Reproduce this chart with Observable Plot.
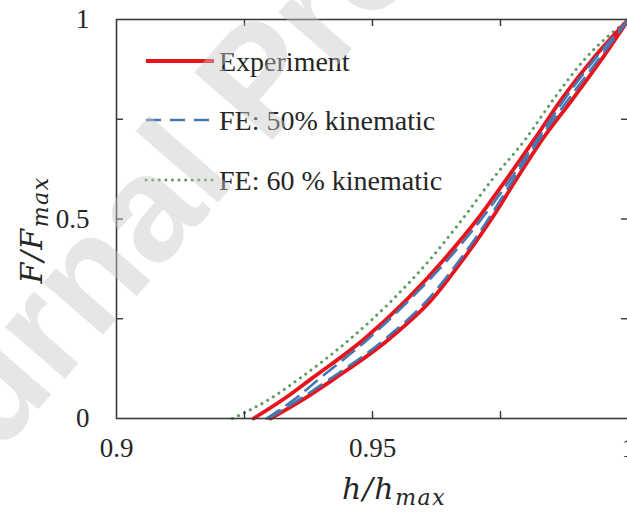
<!DOCTYPE html>
<html>
<head>
<meta charset="utf-8">
<script src="https://cdn.jsdelivr.net/npm/d3@7"></script>
<script src="https://cdn.jsdelivr.net/npm/@observablehq/plot@0.6"></script>
<style>
  html, body { margin: 0; padding: 0; background: #fff; overflow: hidden; }
  #chart { position: relative; width: 627px; height: 515px; overflow: hidden; }
  #chart svg { display: block; max-width: none !important; }
</style>
</head>
<body>
<div id="chart"></div>
<script>
// Normalised force levels shared by every branch
const forceLevels = [0, 0.05, 0.1, 0.2, 0.3, 0.4, 0.5, 0.6, 0.7, 0.8, 0.9, 1];

// Normalised depth h/hmax at each force level
const expUpper  = [0.92676, 0.93281, 0.93809, 0.94844, 0.95684, 0.96406, 0.97051, 0.97617, 0.98164, 0.98691, 0.99297, 1];
const expLower  = [0.93008, 0.93672, 0.94258, 0.95332, 0.96172, 0.96777, 0.97324, 0.97813, 0.98320, 0.98906, 0.99473, 1];
const fe50Upper = [0.92930, 0.93496, 0.93965, 0.94922, 0.95742, 0.96484, 0.97129, 0.97695, 0.98223, 0.98750, 0.99336, 1];
const fe50Lower = [0.92969, 0.93594, 0.94180, 0.95254, 0.96094, 0.96719, 0.97266, 0.97754, 0.98262, 0.98828, 0.99414, 1];
const fe60      = [0.92266, 0.93008, 0.93574, 0.94570, 0.95410, 0.96133, 0.96758, 0.97344, 0.97988, 0.98535, 0.99141, 1];

// Axis ticks
const xTickLabels = [0.9, 0.95, 1];
const yTickLabels = [0, 0.5, 1];
const xTickMarks = [0.925, 0.95, 0.975];
const yTickMarks = [0.25, 0.5, 0.75];

// Legend entries
const legendLabels = ["Experiment", "FE: 50% kinematic", "FE: 60 % kinematic"];

const colors = { exp: "#e8141c", fe50: "#4677b0", fe60: "#5f9a62" };

function branch(hs, name) {
  return hs.map((h, i) => ({ h, F: forceLevels[i], branch: name }));
}
const expRows  = [...branch(expUpper, "up"), ...branch(expLower, "low")];
const fe50Rows = [...branch(fe50Upper, "up"), ...branch(fe50Lower, "low")];
const fe60Rows = branch(fe60, "single");

const plotW = 688, plotH = 515;
const mL = 116, mR = 60, mT = 19, mB = 97;
const innerW = plotW - mL - mR, innerH = plotH - mT - mB;
const tickLen = 7;

const chart = Plot.plot({
  width: plotW,
  height: plotH,
  marginLeft: mL,
  marginRight: mR,
  marginTop: mT,
  marginBottom: mB,
  style: { fontFamily: "'Liberation Serif', 'Times New Roman', serif", fontSize: "27px", color: "#262626", background: "#fff" },
  x: { domain: [0.9, 1] },
  y: { domain: [0, 1] },
  marks: [
    // curves
    Plot.line(fe60Rows, { x: "h", y: "F", z: "branch", curve: "monotone-x", stroke: colors.fe60, strokeWidth: 3, strokeDasharray: "0.1,6.5", strokeLinecap: "round" }),
    Plot.line(expRows, { x: "h", y: "F", z: "branch", curve: "monotone-x", stroke: colors.exp, strokeWidth: 3.8 }),
    Plot.line(fe50Rows, { x: "h", y: "F", z: "branch", curve: "monotone-x", stroke: colors.fe50, strokeWidth: 2.6, strokeDasharray: "15,9" }),
    // inward tick marks on all four sides
    Plot.tickX(xTickMarks, { x: d => d, insetTop: innerH - tickLen, stroke: "#333", strokeWidth: 1.4 }),
    Plot.tickX(xTickMarks, { x: d => d, insetBottom: innerH - tickLen, stroke: "#333", strokeWidth: 1.4 }),
    Plot.tickY(yTickMarks, { y: d => d, insetRight: innerW - tickLen, stroke: "#333", strokeWidth: 1.4 }),
    Plot.tickY(yTickMarks, { y: d => d, insetLeft: innerW - tickLen, stroke: "#333", strokeWidth: 1.4 }),
    // tick labels
    Plot.axisX(xTickLabels, { tickSize: 0, tickPadding: 19, tickFormat: d => String(d), label: null }),
    Plot.axisY(yTickLabels, { tickSize: 0, tickPadding: 27, tickFormat: d => String(d), label: null }),
    Plot.frame({ stroke: "#3a3a3a", strokeWidth: 1.6 })
  ]
});

document.getElementById("chart").appendChild(chart);

const svg = d3.select(chart);
const serif = "'Liberation Serif', 'Times New Roman', serif";
const mathFont = "'DejaVu Serif', 'Liberation Serif', serif";

// axis titles with subscripts
const xt = svg.append("text")
  .attr("x", 394).attr("y", 499)
  .attr("text-anchor", "middle")
  .attr("font-family", mathFont).attr("font-style", "italic")
  .attr("letter-spacing", 1.5)
  .attr("font-size", 30).attr("fill", "#262626");
xt.append("tspan").text("h/h");
xt.append("tspan").attr("font-size", 22).attr("dy", 6).text("max");

const yt = svg.append("text")
  .attr("transform", "translate(42,230) rotate(-90)")
  .attr("text-anchor", "middle")
  .attr("font-family", mathFont).attr("font-style", "italic")
  .attr("letter-spacing", 1.5)
  .attr("font-size", 30).attr("fill", "#262626");
yt.append("tspan").text("F/F");
yt.append("tspan").attr("font-size", 22).attr("dy", 6).text("max");

// legend
const legend = svg.append("g")
  .attr("font-family", serif).attr("font-size", 28).attr("fill", "#262626")
  .attr("text-anchor", "start");
const legendRows = [
  { label: legendLabels[0], y: 61, stroke: colors.exp, width: 3.8, dash: null, cap: "butt" },
  { label: legendLabels[1], y: 120, stroke: colors.fe50, width: 2.6, dash: "15,9", cap: "butt" },
  { label: legendLabels[2], y: 180, stroke: colors.fe60, width: 3, dash: "0.1,6.5", cap: "round" }
];
legendRows.forEach(r => {
  legend.append("line")
    .attr("x1", 146).attr("x2", 214).attr("y1", r.y).attr("y2", r.y)
    .attr("stroke", r.stroke).attr("stroke-width", r.width)
    .attr("stroke-dasharray", r.dash).attr("stroke-linecap", r.cap);
  legend.append("text").attr("x", 219).attr("y", r.y).attr("dy", "0.35em").text(r.label);
});

// translucent diagonal watermark laid over the figure
svg.append("text")
  .attr("transform", "translate(-117,588) rotate(-49)")
  .attr("text-anchor", "start")
  .attr("font-family", "'Liberation Sans', Arial, sans-serif")
  .attr("font-weight", "bold")
  .attr("font-size", 150)
  .attr("fill", "#c8c8c8").attr("fill-opacity", 0.45)
  .text("Journal Pre-proof");
</script>
</body>
</html>
